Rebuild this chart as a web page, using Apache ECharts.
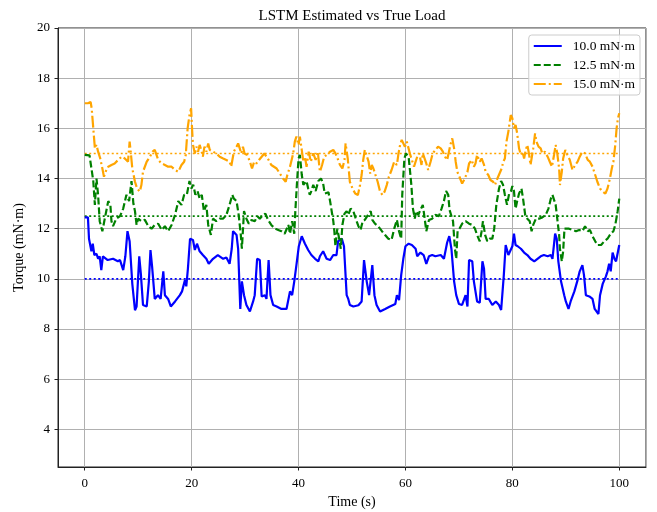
<!DOCTYPE html>
<html>
<head>
<meta charset="utf-8">
<script src="https://cdn.jsdelivr.net/npm/echarts@6/dist/echarts.min.js"></script>
<style>
  html, body { margin: 0; padding: 0; background: #fff; }
  #chart { width: 657px; height: 512px; }
</style>
</head>
<body>
<div id="chart"></div>
<script>
// True load levels (mN·m) and time span of the reference lines
var trueLoads = [10, 12.5, 15];
var trueSpan = [0, 100];
var loadNames = ['10.0 mN·m', '12.5 mN·m', '15.0 mN·m'];

// LSTM estimates, [time (s), torque (mN·m)]
var est10 = [
    [0,12.45],[0.6,12.45],[0.8,11.6],[1.25,11.1],[1.5,11.4],[1.8,10.95],[2.2,11.0],[2.5,10.8],[2.8,10.9],[3.1,10.35],
    [3.4,10.9],[4.3,10.75],[5.3,10.8],[6.2,10.7],[6.6,10.75],[7.2,10.35],[7.6,10.9],[8.0,11.9],[8.4,11.5],[8.9,9.8],
    [9.4,8.75],[9.7,8.9],[10.2,10.9],[10.5,10.2],[10.9,8.96],[11.6,8.9],[12.0,9.9],[12.3,11.15],[12.6,10.5],[13.1,9.2],
    [13.7,9.35],[14.2,9.2],[14.7,10.3],[15.0,9.35],[15.6,9.2],[16.1,8.9],[16.9,9.1],[17.8,9.35],[18.2,9.5],[18.75,9.95],
    [19.0,9.7],[19.3,10.4],[19.7,11.6],[20.25,11.55],[20.6,11.15],[21.0,11.4],[21.5,11.1],[22.1,10.95],[22.75,10.8],[23.2,10.6],
    [24.0,10.8],[24.9,10.95],[25.9,10.8],[26.5,10.85],[27.1,10.6],[27.5,11.2],[27.75,11.9],[28.4,11.75],[28.7,11.2],[29.1,8.8],
    [29.4,9.9],[29.8,9.35],[30.25,8.96],[30.9,8.7],[31.5,9.1],[31.8,9.35],[32.25,10.8],[32.75,10.75],[33.1,9.3],[33.7,9.35],
    [34.0,9.2],[34.4,10.75],[34.75,9.35],[35.25,8.96],[35.9,8.9],[36.8,8.8],[37.75,8.8],[38.4,9.5],[38.8,9.35],[39.2,9.9],
    [39.6,10.55],[40.05,11.3],[40.6,11.7],[41.2,11.4],[41.8,11.15],[42.4,10.95],[43.1,10.8],[43.7,10.7],[44.0,10.9],[44.6,11.1],
    [45.25,10.8],[45.9,10.75],[46.5,10.95],[47.1,10.95],[47.4,11.5],[48.1,11.6],[48.5,11.3],[49.0,9.35],[49.3,9.2],[49.6,8.96],
    [50.25,8.9],[51.2,8.95],[51.8,9.1],[52.25,10.75],[52.75,9.9],[53.2,9.35],[53.8,10.55],[54.2,9.35],[54.6,8.96],[55.25,8.7],
    [56.2,8.8],[57.1,8.9],[58.1,9.0],[58.4,9.35],[58.8,9.15],[59.2,10.15],[59.6,10.8],[60.0,11.3],[60.6,11.4],[61.2,11.35],
    [61.9,11.2],[62.2,10.9],[62.8,11.05],[63.4,10.95],[63.9,10.6],[64.4,10.9],[65.0,10.95],[65.6,10.9],[66.6,10.95],[67.2,10.8],
    [67.8,11.45],[68.2,11.7],[68.6,11.2],[69.1,9.9],[69.5,9.35],[70.0,9.0],[70.6,8.96],[71.25,9.35],[71.6,8.9],[71.9,10.75],
    [72.5,10.7],[72.8,9.9],[73.4,9.1],[73.9,9.05],[74.4,10.7],[74.7,10.4],[75.0,9.2],[75.6,9.2],[76.25,8.96],[76.9,9.1],
    [77.5,8.96],[77.9,8.76],[78.4,10.15],[78.75,11.35],[79.25,10.95],[80.0,11.3],[80.3,11.8],[80.6,11.35],[81.0,11.3],[81.6,11.2],
    [82.2,11.05],[82.8,10.95],[83.4,10.8],[84.1,10.7],[84.7,10.8],[85.3,10.9],[85.9,10.95],[86.6,10.9],[87.2,10.95],[87.5,10.8],
    [88.0,11.8],[88.3,11.6],[88.6,10.7],[89.1,9.9],[89.7,9.35],[90.0,9.1],[90.5,8.8],[90.9,9.1],[91.6,9.5],[92.2,9.95],
    [92.6,10.3],[93.1,10.55],[93.4,10.15],[93.75,9.35],[94.4,9.3],[95.0,9.2],[95.4,8.8],[96.1,8.6],[96.4,9.35],[96.9,9.8],
    [97.5,10.1],[97.8,10.3],[98.1,10.6],[98.4,10.3],[98.75,11.05],[99.1,10.8],[99.4,10.7],[100,11.35]
];

var est12 = [
    [0,14.94],[0.9,14.92],[1.6,13.9],[1.9,12.95],[2.2,14.0],[2.5,13.35],[2.8,12.3],[3.3,11.9],[3.75,12.4],[4.4,13.1],
    [4.8,12.95],[5.0,12.3],[5.3,12.1],[5.9,12.4],[6.6,12.5],[7.2,12.8],[7.8,13.35],[8.3,13.1],[8.75,13.9],[9.1,13.0],
    [9.4,12.7],[9.7,12.15],[10.0,12.4],[10.6,12.3],[11.25,12.35],[11.9,12.1],[12.5,12.0],[13.1,12.15],[13.75,12.2],[14.4,11.95],
    [15.0,12.1],[15.6,11.9],[16.25,12.15],[16.9,12.55],[17.5,13.1],[18.1,12.95],[18.6,13.35],[19.1,13.35],[19.6,13.9],[19.95,13.6],
    [20.3,13.75],[20.7,13.35],[21.1,13.5],[21.5,13.2],[21.9,13.35],[22.3,12.7],[22.75,12.95],[23.1,12.15],[23.6,11.75],[24.0,12.4],
    [24.6,12.3],[25.25,12.4],[25.9,12.4],[26.5,12.55],[27.1,12.95],[27.6,13.35],[27.9,13.2],[28.4,13.1],[28.8,12.55],[29.2,11.75],
    [29.4,11.2],[29.8,12.7],[30.25,12.4],[30.7,12.2],[31.2,12.35],[31.8,12.3],[32.3,12.5],[32.75,12.4],[33.4,12.55],[33.8,12.6],
    [34.3,12.35],[34.9,12.15],[35.6,12.0],[36.2,11.95],[36.8,11.9],[37.4,11.8],[38.1,12.15],[38.4,11.8],[38.8,12.3],[39.2,11.8],
    [39.4,12.7],[39.7,13.8],[40.0,14.8],[40.25,14.94],[40.6,14.15],[40.9,13.75],[41.5,13.9],[41.8,13.6],[42.1,13.35],[42.4,13.5],
    [42.75,13.75],[43.2,13.5],[43.7,13.9],[44.2,14.0],[44.6,13.8],[44.9,13.4],[45.25,13.35],[45.6,13.45],[45.9,13.1],[46.2,12.7],
    [46.5,12.3],[46.7,11.9],[46.9,11.3],[47.25,12.0],[47.6,11.6],[47.9,11.2],[48.2,12.15],[48.6,12.6],[49.0,12.7],[49.3,12.55],
    [49.75,12.8],[50.25,12.7],[50.7,12.4],[51.2,12.1],[51.6,11.95],[52.0,12.3],[52.4,12.35],[53.0,12.55],[53.5,12.7],[53.8,12.35],
    [54.3,12.2],[54.9,12.1],[55.6,11.9],[56.2,11.75],[56.8,11.6],[57.4,11.55],[57.9,12.0],[58.4,12.35],[58.8,11.9],[59.2,11.6],
    [59.4,13.35],[59.8,14.8],[60.1,15.0],[60.6,14.85],[60.9,14.2],[61.1,13.75],[61.4,12.8],[61.75,12.4],[62.0,12.7],[62.4,12.55],
    [62.8,12.75],[63.25,12.95],[63.6,12.4],[63.9,11.9],[64.4,12.35],[65.0,12.4],[65.6,12.55],[66.25,12.5],[66.75,12.8],[67.2,13.1],
    [67.6,13.5],[68.0,13.35],[68.25,12.75],[68.6,12.7],[68.9,12.3],[69.25,11.2],[69.5,10.8],[69.75,11.9],[70.1,12.0],[70.6,12.2],
    [71.25,12.3],[71.9,12.2],[72.5,12.15],[73.0,12.0],[73.4,11.75],[73.9,11.5],[74.25,11.9],[74.5,12.3],[74.9,11.75],[75.3,11.5],
    [75.75,11.6],[76.25,11.6],[76.6,12.0],[77.0,12.95],[77.5,13.6],[77.9,13.9],[78.25,13.75],[78.6,13.35],[79.0,12.95],[79.4,13.4],
    [79.75,13.5],[80.0,13.7],[80.3,13.5],[80.6,12.8],[80.9,13.1],[81.25,13.4],[81.7,13.6],[82.0,13.2],[82.4,12.55],[82.8,12.4],
    [83.25,12.3],[83.6,11.9],[83.9,12.15],[84.4,12.4],[85.0,12.4],[85.6,12.45],[86.25,12.55],[86.75,12.8],[87.2,13.2],[87.5,13.35],
    [87.8,13.15],[88.1,12.95],[88.4,12.4],[88.75,11.75],[88.9,11.2],[89.25,10.7],[89.5,11.1],[89.75,12.0],[90.1,11.95],[90.6,12.0],
    [91.25,11.95],[91.9,11.9],[92.5,11.95],[93.1,11.9],[93.6,12.1],[94.1,11.9],[94.5,11.95],[95.0,11.7],[95.5,11.5],[95.9,11.35],
    [96.6,11.35],[97.2,11.5],[97.8,11.6],[98.4,11.8],[98.9,11.9],[99.25,12.15],[99.7,12.7],[100,13.2]
];

var est15 = [
    [0,17.0],[0.6,17.0],[1.1,17.05],[1.3,16.8],[1.6,16.0],[1.9,15.2],[2.2,15.35],[2.5,15.07],[2.9,14.8],[3.3,14.4],
    [3.6,14.07],[3.9,14.27],[4.4,14.47],[5.0,14.54],[5.6,14.6],[6.25,14.74],[6.9,14.87],[7.5,14.8],[8.1,14.67],[8.4,15.47],
    [8.6,15.07],[8.9,14.4],[9.4,13.87],[9.8,13.6],[10.3,13.48],[10.6,13.74],[10.9,14.27],[11.6,14.67],[12.2,14.87],[12.7,15.07],
    [13.1,15.14],[13.75,14.74],[14.4,14.6],[15.0,14.54],[15.6,14.47],[16.25,14.47],[16.9,14.34],[17.5,14.27],[18.1,14.54],[18.6,14.67],
    [18.9,14.94],[19.25,16.0],[19.6,16.53],[19.9,16.8],[20.1,15.9],[20.25,15.35],[20.6,15.0],[20.9,15.27],[21.2,15.07],[21.5,15.34],
    [21.8,15.14],[22.1,14.87],[22.4,15.27],[22.75,15.07],[23.1,15.4],[23.4,15.14],[23.7,15.2],[24.0,15.07],[24.6,15.0],[25.25,14.87],
    [25.9,14.8],[26.5,14.74],[27.1,14.67],[27.4,14.47],[27.9,15.07],[28.4,15.27],[28.7,15.4],[29.0,15.2],[29.3,15.0],[29.6,15.27],
    [29.9,15.0],[30.4,14.94],[30.9,14.67],[31.3,14.4],[31.7,14.67],[32.1,14.6],[32.6,14.74],[33.1,14.87],[33.6,15.0],[34.0,14.87],
    [34.4,14.74],[34.9,14.54],[35.4,14.47],[35.9,14.4],[36.5,14.2],[37.1,14.0],[37.6,13.87],[37.9,14.14],[38.4,14.47],[38.7,14.4],
    [39.0,15.0],[39.3,15.47],[39.6,15.67],[40.0,15.34],[40.25,15.67],[40.6,15.14],[40.9,14.67],[41.2,14.87],[41.5,14.47],[41.9,15.07],
    [42.3,14.67],[42.75,15.0],[43.2,14.74],[43.6,15.07],[44.0,14.27],[44.4,14.54],[44.8,14.87],[45.25,14.94],[45.9,15.07],[46.5,15.14],
    [46.9,15.0],[47.3,14.8],[47.75,14.54],[48.2,14.4],[48.6,14.74],[48.8,15.4],[49.2,14.8],[49.6,13.87],[50.1,13.6],[50.6,13.4],
    [51.1,13.34],[51.5,13.74],[51.8,14.14],[52.1,14.74],[52.4,15.14],[52.75,15.07],[53.1,14.67],[53.4,14.2],[53.7,14.54],[54.0,14.4],
    [54.3,14.2],[54.8,13.87],[55.25,13.48],[55.7,13.34],[56.1,13.48],[56.5,13.74],[56.9,14.07],[57.4,14.34],[57.9,14.67],[58.4,14.54],
    [58.7,15.0],[59.0,15.34],[59.3,15.54],[59.6,15.6],[59.9,15.27],[60.25,15.47],[60.6,15.4],[60.9,14.94],[61.25,15.0],[61.6,14.47],
    [61.9,14.67],[62.2,14.87],[62.6,15.0],[63.0,14.54],[63.25,15.0],[63.6,15.07],[63.9,14.6],[64.25,14.34],[64.7,14.67],[65.1,15.0],
    [65.6,15.14],[66.1,15.27],[66.6,15.2],[67.0,15.07],[67.4,14.87],[67.8,14.74],[68.1,14.67],[68.4,15.34],[68.75,15.6],[69.1,15.2],
    [69.4,14.67],[69.7,14.27],[70.1,14.07],[70.6,13.8],[71.1,14.0],[71.6,14.27],[71.9,14.6],[72.4,14.74],[72.8,14.47],[73.1,14.6],
    [73.4,14.94],[73.9,14.67],[74.25,14.8],[74.7,14.54],[75.0,14.27],[75.5,14.14],[75.9,13.94],[76.4,13.87],[76.75,13.74],[77.2,14.0],
    [77.6,14.2],[78.0,14.4],[78.3,14.67],[78.6,14.8],[78.9,15.47],[79.25,15.87],[79.7,16.53],[80.0,16.4],[80.3,16.0],[80.6,16.13],
    [80.9,15.8],[81.25,15.2],[81.6,14.94],[81.9,15.07],[82.2,14.8],[82.5,15.14],[82.8,15.34],[83.1,15.0],[83.4,14.54],[83.9,15.2],
    [84.25,15.8],[84.5,15.47],[84.9,15.27],[85.3,15.2],[85.6,15.0],[86.1,15.07],[86.6,14.87],[87.0,14.67],[87.4,14.47],[87.8,14.94],
    [88.1,15.34],[88.4,15.0],[88.75,14.4],[88.9,13.74],[89.25,14.27],[89.5,14.8],[89.9,15.14],[90.3,14.94],[90.75,14.74],[91.25,14.34],
    [91.75,14.54],[92.2,14.67],[92.6,14.87],[93.1,15.07],[93.6,15.0],[94.1,14.74],[94.5,14.67],[95.0,14.47],[95.5,14.14],[95.9,13.87],
    [96.4,13.6],[96.9,13.48],[97.4,13.4],[97.8,13.6],[98.25,14.0],[98.6,14.4],[98.9,14.67],[99.25,15.34],[99.5,16.0],[99.75,16.4],
    [100,16.6]
];

var estimates = [est10, est12, est15];
var colors = ['#0000ff', '#008000', '#ffa500'];
var dashTypes = ['solid', [7, 3], [12, 3, 2, 3]];

var fontFamily = '"Liberation Serif", "DejaVu Serif", serif';

var chart = echarts.init(document.getElementById('chart'), null, { renderer: 'canvas' });

var series = [];
for (var i = 0; i < estimates.length; i++) {
    // true load, dotted
    series.push({
        name: 'true' + i,
        type: 'line',
        data: [[trueSpan[0], trueLoads[i]], [trueSpan[1], trueLoads[i]]],
        symbol: 'none',
        silent: true,
        lineStyle: { color: colors[i], width: 1.6, type: [2, 2.5] },
        z: 2
    });
}
for (var j = 0; j < estimates.length; j++) {
    series.push({
        name: loadNames[j],
        type: 'line',
        data: estimates[j],
        symbol: 'none',
        lineStyle: { color: colors[j], width: 2.2, type: dashTypes[j] },
        itemStyle: { color: colors[j] },
        z: 3 + j
    });
}

chart.setOption({
    animation: false,
    backgroundColor: '#fff',
    textStyle: { fontFamily: fontFamily },
    title: {
        text: 'LSTM Estimated vs True Load',
        left: 347,
        textAlign: 'center',
        top: 4,
        textStyle: { fontFamily: fontFamily, fontSize: 15, fontWeight: 'normal', color: '#000' }
    },
    legend: {
        data: loadNames,
        orient: 'vertical',
        right: 17,
        top: 35,
        itemWidth: 28,
        itemHeight: 14,
        itemGap: 5,
        padding: [4, 5, 4, 4],
        backgroundColor: 'rgba(255,255,255,0.8)',
        borderColor: '#cccccc',
        borderWidth: 1,
        borderRadius: 3,
        itemStyle: { opacity: 0, borderWidth: 0 },
        textStyle: { fontFamily: fontFamily, fontSize: 13.5, color: '#000', padding: [0, 0, 0, 6] }
    },
    grid: {
        left: 58, right: 11, top: 28, bottom: 45,
        outerBoundsMode: 'none',
        show: true, borderColor: '#222', borderWidth: 1
    },
    xAxis: {
        type: 'value',
        min: -5, max: 105,
        splitNumber: 5, minInterval: 20, maxInterval: 20,
        name: 'Time (s)',
        nameLocation: 'middle',
        nameGap: 26,
        nameTextStyle: { fontFamily: fontFamily, fontSize: 14, color: '#000' },
        axisLine: { show: true, onZero: false, lineStyle: { color: '#222', width: 1 } },
        axisTick: { show: true, length: 3.5, lineStyle: { color: '#222' } },
        axisLabel: { showMinLabel: false, showMaxLabel: false, margin: 10, fontFamily: fontFamily, fontSize: 13, color: '#000' },
        splitLine: { show: true, lineStyle: { color: '#b0b0b0', width: 1 } }
    },
    yAxis: {
        type: 'value',
        min: 2.5, max: 20,
        splitNumber: 8, minInterval: 2, maxInterval: 2,
        name: 'Torque (mN·m)',
        nameLocation: 'middle',
        nameGap: 27,
        nameTextStyle: { fontFamily: fontFamily, fontSize: 14, color: '#000' },
        axisLine: { show: true, onZero: false, lineStyle: { color: '#222', width: 1 } },
        axisTick: { show: true, length: 3.5, lineStyle: { color: '#222' } },
        axisLabel: { showMinLabel: false, margin: 8, fontFamily: fontFamily, fontSize: 13, color: '#000' },
        splitLine: { show: true, lineStyle: { color: '#b0b0b0', width: 1 } }
    },
    series: series
});
</script>
</body>
</html>
